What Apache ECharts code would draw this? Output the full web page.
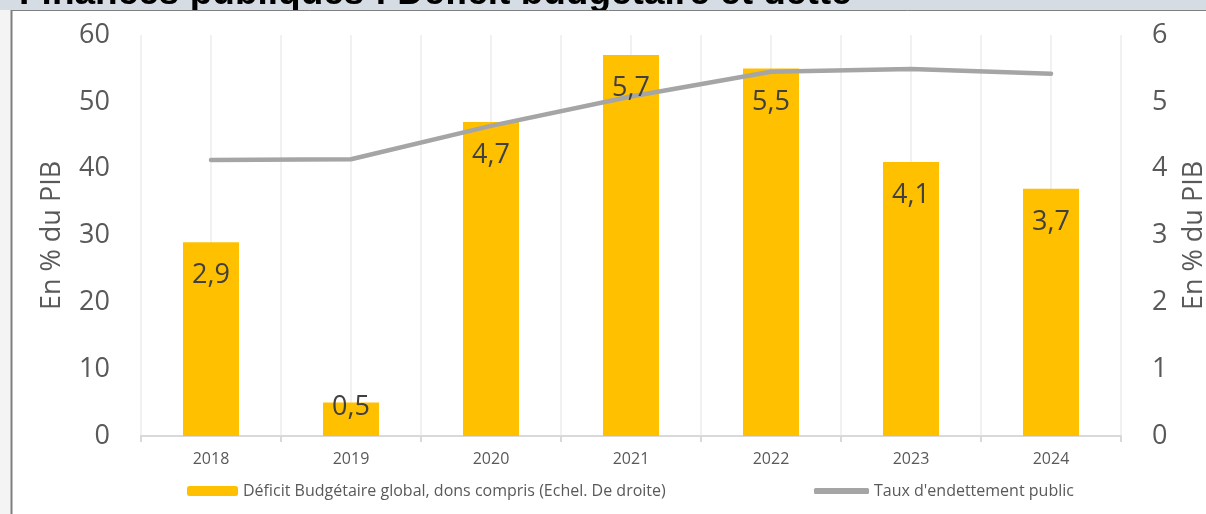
<html>
<head>
    <script src="https://cdn.jsdelivr.net/npm/echarts@6/dist/echarts.min.js"></script>
    <style>
        body { margin: 0; background: #fff; }
        #main { width: 1206px; height: 514px; }
    </style>
</head>
<body>
    <div id="main"></div>
    <script>
        // données
        var years = ['2018', '2019', '2020', '2021', '2022', '2023', '2024'];
        var deficit = [2.9, 0.5, 4.7, 5.7, 5.5, 4.1, 3.7];           // échelle de droite
        var dette = [41.3, 41.4, 46.4, 50.8, 54.5, 54.9, 54.2];     // échelle de gauche
        var leftTicks = [0, 60, 10];   // min, max, pas
        var rightTicks = [0, 6, 1];

        var titre = 'Finances publiques : Déficit budgétaire et dette';
        var nomBar = 'Déficit Budgétaire global, dons compris (Echel. De droite)';
        var nomLigne = "Taux d'endettement public";

        var font = '"Open Sans", Lato, sans-serif';
        var gris = '#595959';

        var myChart = echarts.init(document.getElementById('main'));

        var labelData = deficit.map(function (v, i) {
            var d = { value: v };
            // barre trop petite : l'étiquette déborde au-dessus
            if (v < 1) {
                d.label = { position: 'top', distance: -18 };
            }
            return d;
        });

        var option = {
            animation: false,
            textStyle: { fontFamily: font },
            graphic: [
                { type: 'rect', shape: { x: 0, y: 0, width: 1206, height: 10 }, style: { fill: '#d6dce4' } },
                { type: 'rect', shape: { x: 0, y: 10, width: 11, height: 504 }, style: { fill: '#f4f4f4' } },
                {
                    type: 'text', x: 19, y: -6,
                    style: {
                        text: titre, font: 'bold 37px "Liberation Sans", Arial', fill: '#000',
                        verticalAlign: 'middle'
                    }
                },
                { type: 'rect', shape: { x: 12, y: 11, width: 1194, height: 20 }, style: { fill: '#fff' } },
                { type: 'line', shape: { x1: 11, y1: 10.5, x2: 1206, y2: 10.5 }, style: { stroke: '#7f7f7f', lineWidth: 1 } },
                { type: 'line', shape: { x1: 11.5, y1: 10, x2: 11.5, y2: 514 }, style: { stroke: '#7f7f7f', lineWidth: 2 } }
            ],
            grid: { left: 141, right: 85, top: 35, bottom: 78, outerBoundsMode: 'none', containLabel: false },
            legend: [
                {
                    data: [nomBar], left: 187, top: 483, padding: 0, itemWidth: 51, itemHeight: 10, itemGap: 5,
                    textStyle: { fontSize: 16, color: gris, fontFamily: font }
                },
                {
                    data: [{ name: nomLigne, icon: 'roundRect' }], left: 814, top: 483, padding: 0,
                    itemWidth: 55, itemHeight: 6,
                    textStyle: { fontSize: 16, color: gris, fontFamily: font }
                }
            ],
            xAxis: [
                {
                    type: 'category', data: years,
                    axisLine: { lineStyle: { color: '#d9d9d9', width: 2 } },
                    axisTick: { show: true, length: 6, lineStyle: { color: '#d9d9d9', width: 2 } },
                    axisLabel: { fontSize: 16, color: gris, margin: 15 },
                    splitLine: { show: false }
                },
                {
                    type: 'value', min: 0, max: years.length * 2, interval: 1,
                    position: 'bottom',
                    axisLine: { show: false }, axisTick: { show: false }, axisLabel: { show: false },
                    splitLine: { show: true, lineStyle: { color: '#ececec', width: 1.5 } }
                }
            ],
            yAxis: [
                {
                    type: 'value', min: leftTicks[0], max: leftTicks[1], interval: leftTicks[2],
                    name: 'En % du PIB', nameLocation: 'middle', nameRotate: 90, nameGap: 75,
                    nameTextStyle: { fontSize: 27, color: gris },
                    axisLine: { show: false }, axisTick: { show: false },
                    axisLabel: { fontSize: 27, color: gris, margin: 31 },
                    splitLine: { show: false }
                },
                {
                    type: 'value', min: rightTicks[0], max: rightTicks[1], interval: rightTicks[2],
                    name: 'En % du PIB', nameLocation: 'middle', nameRotate: 90, nameGap: 60,
                    nameTextStyle: { fontSize: 27, color: gris },
                    axisLine: { show: false }, axisTick: { show: false },
                    axisLabel: { fontSize: 27, color: gris, margin: 31 },
                    splitLine: { show: false }
                }
            ],
            series: [
                {
                    name: nomBar, type: 'bar', xAxisIndex: 0, yAxisIndex: 1,
                    data: deficit, barWidth: 56,
                    itemStyle: { color: '#ffc000' },
                    z: 2
                },
                {
                    name: nomLigne, type: 'line', xAxisIndex: 0, yAxisIndex: 0,
                    data: dette, symbol: 'none',
                    lineStyle: { color: '#a5a5a5', width: 4.5, cap: 'round' },
                    itemStyle: { color: '#a5a5a5' },
                    z: 3
                },
                {
                    // étiquettes seules, au-dessus de la ligne
                    name: 'etiquettes', type: 'bar', xAxisIndex: 0, yAxisIndex: 1,
                    data: labelData, barWidth: 56, barGap: '-100%', silent: true,
                    itemStyle: { color: 'rgba(0,0,0,0)' },
                    label: {
                        show: true, position: 'insideTop', distance: 20,
                        fontSize: 27, color: '#404040',
                        formatter: function (p) { return String(p.value).replace('.', ','); }
                    },
                    z: 4
                }
            ]
        };

        myChart.setOption(option);
    </script>
</body>
</html>
